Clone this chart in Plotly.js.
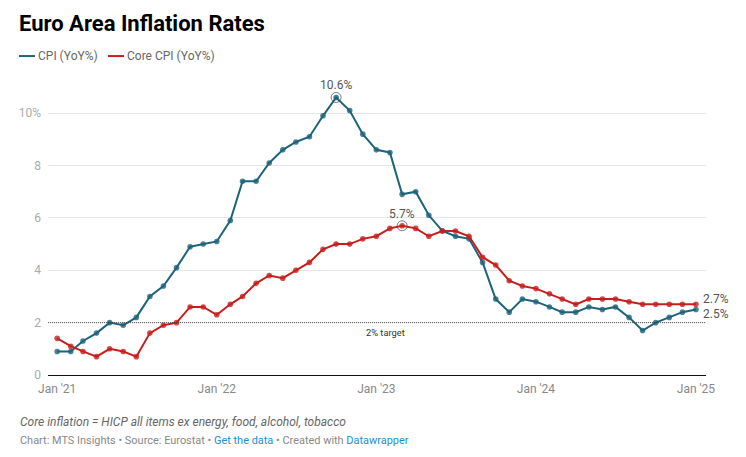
<!DOCTYPE html>
<html><head><meta charset="utf-8">
<script src="https://cdn.plot.ly/plotly-3.0.1.min.js"></script>
<style>html,body{margin:0;padding:0;background:#fff}</style></head>
<body><div id="chart" style="width:746px;height:457px"></div>
<script>
const months = ["2021-01","2021-02","2021-03","2021-04","2021-05","2021-06","2021-07","2021-08","2021-09","2021-10","2021-11","2021-12",
"2022-01","2022-02","2022-03","2022-04","2022-05","2022-06","2022-07","2022-08","2022-09","2022-10","2022-11","2022-12",
"2023-01","2023-02","2023-03","2023-04","2023-05","2023-06","2023-07","2023-08","2023-09","2023-10","2023-11","2023-12",
"2024-01","2024-02","2024-03","2024-04","2024-05","2024-06","2024-07","2024-08","2024-09","2024-10","2024-11","2024-12","2025-01"];
const cpi = [0.9,0.9,1.3,1.6,2.0,1.9,2.2,3.0,3.4,4.1,4.9,5.0,
5.1,5.9,7.4,7.4,8.1,8.6,8.9,9.1,9.9,10.6,10.1,9.2,
8.6,8.5,6.9,7.0,6.1,5.5,5.3,5.2,4.3,2.9,2.4,2.9,
2.8,2.6,2.4,2.4,2.6,2.5,2.6,2.2,1.7,2.0,2.2,2.4,2.5];
const core = [1.4,1.1,0.9,0.7,1.0,0.9,0.7,1.6,1.9,2.0,2.6,2.6,
2.3,2.7,3.0,3.5,3.8,3.7,4.0,4.3,4.8,5.0,5.0,5.2,
5.3,5.6,5.7,5.6,5.3,5.5,5.5,5.3,4.5,4.2,3.6,3.4,
3.3,3.1,2.9,2.7,2.9,2.9,2.9,2.8,2.7,2.7,2.7,2.7,2.7];
const seriesNames = ["CPI (YoY%)","Core CPI (YoY%)"];
const colors = ["#1d6379","#c71e1d"];
const xTickVals = ["2021-01","2022-01","2023-01","2024-01","2025-01"];
const xTickText = ["Jan '21","Jan '22","Jan '23","Jan '24","Jan '25"];
const yTickVals = [0,2,4,6,8,10];
const yTickText = ["0","2","4","6","8","10%"];
const targetValue = 2;
const highlights = [{x:"2022-10",y:10.6,t:"10.6%"},{x:"2023-03",y:5.7,t:"5.7%"}];

const L=48,R=706,T=87,B=375.5,W=746,H=457;
const px=v=>(v-L)/(R-L), py=v=>(B-v)/(B-T);
const FF="Roboto, sans-serif";

function lineTrace(y,c,n){return {x:months,y:y,type:"scatter",mode:"lines",name:n,showlegend:false,
  line:{color:c,width:2,shape:"linear"},hoverinfo:"skip"};}
function dotTrace(y,c,n){return {x:months,y:y,type:"scatter",mode:"markers",name:n+" points",showlegend:false,
  marker:{color:c,size:5.6,opacity:0.8},hoverinfo:"x+y"};}
const traces=[lineTrace(cpi,colors[0],seriesNames[0]),dotTrace(cpi,colors[0],seriesNames[0]),
  lineTrace(core,colors[1],seriesNames[1]),dotTrace(core,colors[1],seriesNames[1]),
  {x:highlights.map(h=>h.x),y:highlights.map(h=>h.y),type:"scatter",mode:"markers",showlegend:false,hoverinfo:"skip",
   marker:{symbol:"circle-open",size:10,color:"#444",line:{color:"#444",width:0.7}}}];

function txt(x,y,text,size,color,xa,extra){return Object.assign({xref:"paper",yref:"paper",x:px(x),y:py(y),text:text,showarrow:false,
  xanchor:xa||"left",yanchor:"middle",align:"left",borderpad:0,font:{family:FF,size:size,color:color}},extra||{});}

const ann=[
 txt(37,56,seriesNames[0],12,"#666"),
 txt(126,56,seriesNames[1],12,"#666"),
 txt(18.5,423,"<i>Core inflation = HICP all items ex energy, food, alcohol, tobacco</i>",12,"#666"),
 txt(18.5,441.5,'Chart: MTS Insights • Source: Eurostat • <span style="color:#1d8fd1">Get the data</span> • Created with <span style="color:#1d8fd1">Datawrapper</span>',10.95,"#888"),
 {xref:"paper",yref:"y",x:px(385.5),y:targetValue,text:"2% target",showarrow:false,xanchor:"center",yanchor:"top",yshift:-2,
  font:{family:FF,size:9.3,color:"#333"}},
 {x:months[months.length-1],y:core[core.length-1],text:core[core.length-1].toFixed(1)+"%",showarrow:false,xanchor:"left",yanchor:"middle",xshift:5,yshift:5.5,font:{family:FF,size:12,color:"#555"}},
 {x:months[months.length-1],y:cpi[cpi.length-1],text:cpi[cpi.length-1].toFixed(1)+"%",showarrow:false,xanchor:"left",yanchor:"middle",xshift:5,yshift:-4.5,font:{family:FF,size:12,color:"#555"}}
].concat(highlights.map(h=>({x:h.x,y:h.y,text:h.t,showarrow:false,xanchor:"center",yanchor:"bottom",yshift:3,font:{family:FF,size:12,color:"#555"}})));

const shapes=[
 {type:"line",xref:"paper",yref:"y",x0:0,x1:1,y0:targetValue,y1:targetValue,line:{color:"#333",width:0.8,dash:"1px,1px"},layer:"above"},
 {type:"line",xref:"paper",yref:"paper",x0:px(19),x1:px(35),y0:py(56),y1:py(56),line:{color:colors[0],width:2}},
 {type:"line",xref:"paper",yref:"paper",x0:px(108),x1:px(124),y0:py(56),y1:py(56),line:{color:colors[1],width:2}}
];

const layout={width:W,height:H,autosize:false,paper_bgcolor:"#fff",plot_bgcolor:"#fff",showlegend:false,
 margin:{l:L,r:W-R,t:T,b:H-B,pad:0},
 title:{text:"<b>Euro Area Inflation Rates</b>",x:19/W,xref:"container",xanchor:"left",y:1-23/H,yref:"container",yanchor:"middle",
   font:{family:FF,size:22,color:"#000"}},
 xaxis:{type:"date",range:["2020-12-11","2025-01-24"],tickmode:"array",tickvals:xTickVals,ticktext:xTickText,showgrid:false,
   ticks:"",ticklabelstandoff:5,tickfont:{family:FF,size:12,color:"#888"},showline:false,zeroline:false},
 yaxis:{range:[0,11],tickmode:"array",tickvals:yTickVals,ticktext:yTickText,showgrid:true,gridcolor:"#e6e6e6",gridwidth:1,
   zeroline:true,zerolinecolor:"#111",zerolinewidth:1.2,ticks:"",ticklabelstandoff:6,tickfont:{family:FF,size:12,color:"#aaa"},showline:false},
 annotations:ann,shapes:shapes,hovermode:"closest"};
Plotly.newPlot("chart",traces,layout,{displayModeBar:false,responsive:false});
</script></body></html>
